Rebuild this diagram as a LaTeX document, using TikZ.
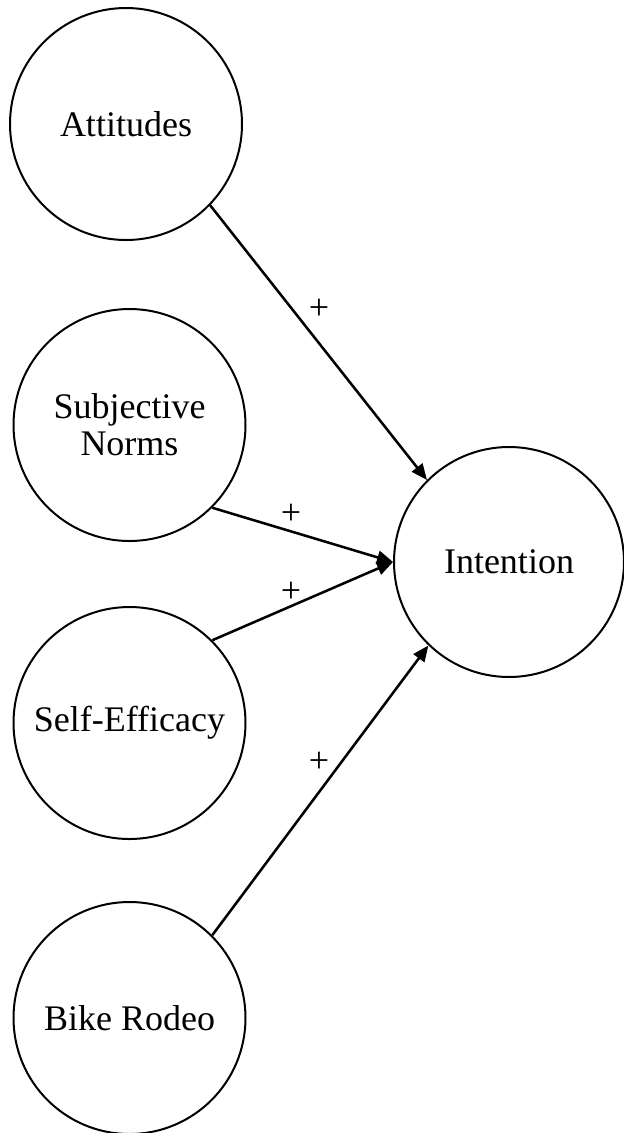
\documentclass[tikz,border=0pt]{standalone}
\usepackage{fontspec}
\setmainfont{Liberation Serif}
\usetikzlibrary{arrows.meta}

\begin{document}
\begin{tikzpicture}[x=0.75pt,y=0.75pt,yscale=-1,xscale=1,
    construct/.style={circle, draw=black, line width=1.5pt, minimum size=174pt, inner sep=0pt, align=center, font=\fontsize{27}{27.75}\selectfont},
    path/.style={draw=black, line width=1.9pt, -{Triangle[length=12pt,width=10pt]}},
    sign/.style={inner sep=0.75pt, font=\fontsize{27}{28}\selectfont}]
    \useasboundingbox (0,0) rectangle (624,1133);

    %Shape: Circle [id:att]
    \node [construct] (att) at (126,124) {Attitudes};
    %Shape: Circle [id:norms]
    \node [construct] (norms) at (129.5,425) {Subjective\\Norms};
    %Shape: Circle [id:self]
    \node [construct] (self) at (129.5,723) {Self-Efficacy};
    %Shape: Circle [id:bike]
    \node [construct] (bike) at (129.5,1018) {Bike Rodeo};
    %Shape: Circle [id:int]
    \node [construct, minimum size=172.5pt] (int) at (509,562) {Intention};

    %Straight Lines
    \draw [path] (att.-44) -- (int.135) ;
    \draw [path] (norms.-45) -- (int.west) ;
    \draw [path] (self.45) -- (int.west) ;
    \draw [path] (bike.45) -- (int.-134) ;

    % Text Node
    \node [sign] (s1) at (319,309) {+};
    % Text Node
    \node [sign] (s2) at (291,514) {+};
    % Text Node
    \node [sign] (s3) at (291,592) {+};
    % Text Node
    \node [sign] (s4) at (319,762) {+};

\end{tikzpicture}
\end{document}
